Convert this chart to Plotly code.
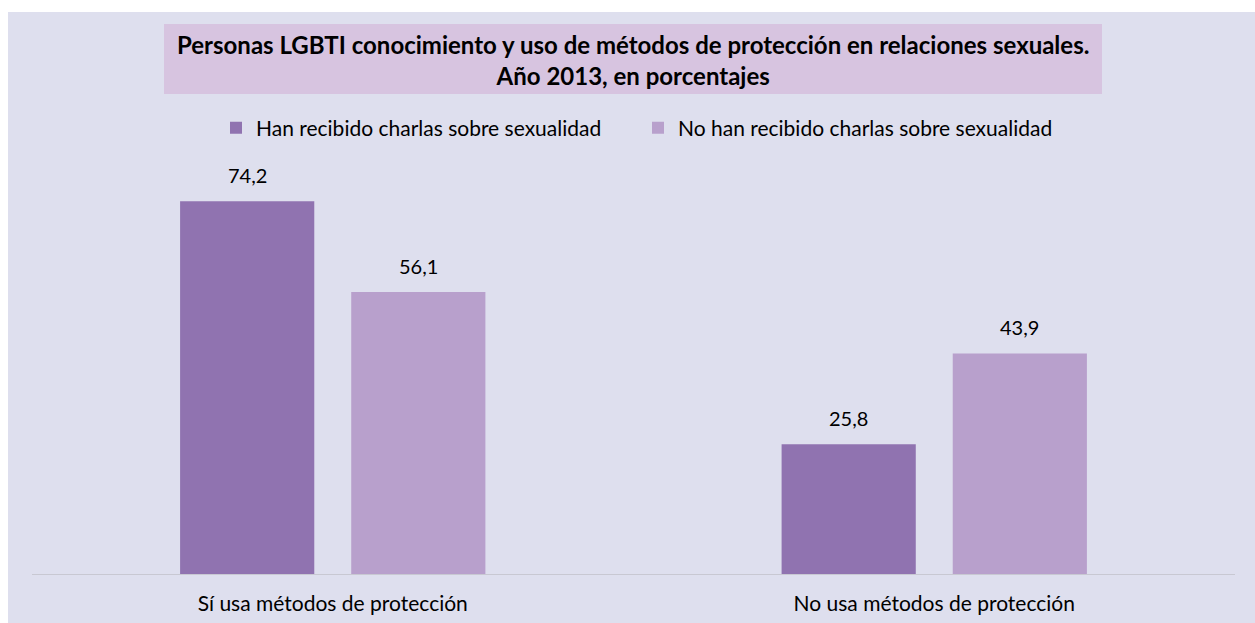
import plotly.graph_objects as go

# Data
categories = ["Sí usa métodos de protección", "No usa métodos de protección"]
series_names = ["Han recibido charlas sobre sexualidad", "No han recibido charlas sobre sexualidad"]
recibido = [74.2, 25.8]
no_recibido = [56.1, 43.9]
colors = ["#9073b0", "#b8a0cc"]

W, H = 1255, 623
ML, MR, MT, MB = 32, 20, 172, 49
plot_w = W - ML - MR
plot_h = H - MT - MB
Y_MAX = 80
BARGAP = 0.431
BARGROUPGAP = 0.216


def px_x(p):
    return (p - ML) / plot_w


def px_y(p):
    return (H - MB - p) / plot_h


FONT = "Lato"
BG = "#dedfee"

fig = go.Figure()
for name, vals, col in zip(series_names, [recibido, no_recibido], colors):
    fig.add_trace(go.Bar(
        name=name, x=categories, y=vals,
        marker=dict(color=col, line=dict(width=0)),
    ))

# value labels above each bar (shifted to the centre of each grouped bar)
slot_px = plot_w / len(categories)
bar_slot = (1 - BARGAP) * slot_px / 2
annotations = []
for i, vals in enumerate([recibido, no_recibido]):
    shift = (i - 0.5) * bar_slot
    for cat, v in zip(categories, vals):
        annotations.append(dict(
            x=cat, y=v, xref="x", yref="y", xshift=shift, yshift=12,
            text=f"{v:.1f}".replace(".", ","), showarrow=False,
            yanchor="bottom", font=dict(family=FONT, size=20, color="#000000"),
        ))

# title
annotations.append(dict(
    x=px_x(633), y=px_y(60), xref="paper", yref="paper",
    text="<b>Personas LGBTI conocimiento y uso de métodos de protección en relaciones sexuales.</b><br><b>Año 2013, en porcentajes</b>",
    showarrow=False, xanchor="center", yanchor="middle", align="center",
    font=dict(family=FONT, size=24, color="#000000"),
))

shapes = [
    # white margin strips
    dict(type="rect", xref="paper", yref="paper", x0=px_x(0), x1=px_x(W), y0=px_y(0), y1=px_y(12),
         fillcolor="#ffffff", line=dict(width=0), layer="below"),
    dict(type="rect", xref="paper", yref="paper", x0=px_x(0), x1=px_x(8), y0=px_y(0), y1=px_y(H),
         fillcolor="#ffffff", line=dict(width=0), layer="below"),
    # title box
    dict(type="rect", xref="paper", yref="paper", x0=px_x(164), x1=px_x(1102), y0=px_y(24), y1=px_y(94),
         fillcolor="#d7c4e0", line=dict(width=0), layer="below"),
]

fig.update_layout(
    width=W, height=H,
    margin=dict(l=ML, r=MR, t=MT, b=MB, pad=0),
    paper_bgcolor=BG, plot_bgcolor=BG,
    barmode="group", bargap=BARGAP, bargroupgap=BARGROUPGAP,
    font=dict(family=FONT, size=21, color="#000000"),
    showlegend=True,
    legend=dict(orientation="h", x=px_x(216), y=px_y(128), xanchor="left", yanchor="middle",
                font=dict(family=FONT, size=21), bgcolor="rgba(0,0,0,0)", itemwidth=30,
                entrywidth=377, entrywidthmode="pixels", traceorder="normal"),
    xaxis=dict(showline=True, linecolor="#c8c8d2", linewidth=1, ticks="", showgrid=False,
               tickfont=dict(family=FONT, size=21), ticklabelstandoff=11, fixedrange=True,
               automargin=False),
    yaxis=dict(range=[0, Y_MAX], visible=False, showgrid=False, fixedrange=True, automargin=False),
    annotations=annotations, shapes=shapes,
)

fig.write_html("out.html")
